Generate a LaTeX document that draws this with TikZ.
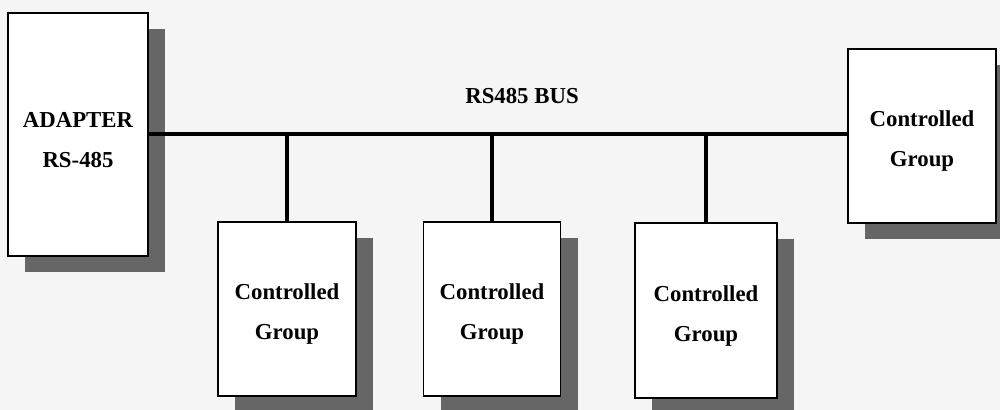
\documentclass[tikz,border=0pt]{standalone}
\usepackage{fontspec}
\setmainfont{Liberation Serif}
\usetikzlibrary{shadows}

\newcommand{\lowertext}{\rule{0pt}{13pt}}

\tikzset{
  unitbox/.style={draw=black, line width=0.7pt, fill=white, align=center,
    font=\bfseries\fontsize{11.4}{20}\selectfont, inner sep=0pt,
    drop shadow={shadow xshift=8.5pt, shadow yshift=-8pt, fill=black!60, opacity=1}},
  busline/.style={line width=2pt},
}

\begin{document}
\begin{tikzpicture}[x=0.5pt, y=-0.5pt]
\useasboundingbox[fill=black!4] (0,0) rectangle (1000,410);

\node[unitbox, minimum width=70pt, minimum height=121.5pt] (adapter) at (78,134.5) {\lowertext ADAPTER\\RS-485};
\node[unitbox, minimum width=74pt, minimum height=87pt] (groupR) at (922,136) {\lowertext Controlled\\Group};

\node[unitbox, minimum width=69pt, minimum height=87pt] (groupA) at (287,309) {\lowertext Controlled\\Group};
\node[unitbox, minimum width=68.5pt, minimum height=87pt] (groupB) at (492,309) {\lowertext Controlled\\Group};
\node[unitbox, minimum width=71pt, minimum height=87.5pt] (groupC) at (706,310.5) {\lowertext Controlled\\Group};

\node[font=\bfseries\fontsize{11.4}{14}\selectfont] (buslabel) at (522,96) {RS485 BUS};

\draw [busline] (adapter.east) -- (adapter.east -| groupR.west);
\draw [busline] (groupA.north) -- (groupA.north |- adapter.east);
\draw [busline] (groupB.north) -- (groupB.north |- adapter.east);
\draw [busline] (groupC.north) -- (groupC.north |- adapter.east);
\end{tikzpicture}
\end{document}
